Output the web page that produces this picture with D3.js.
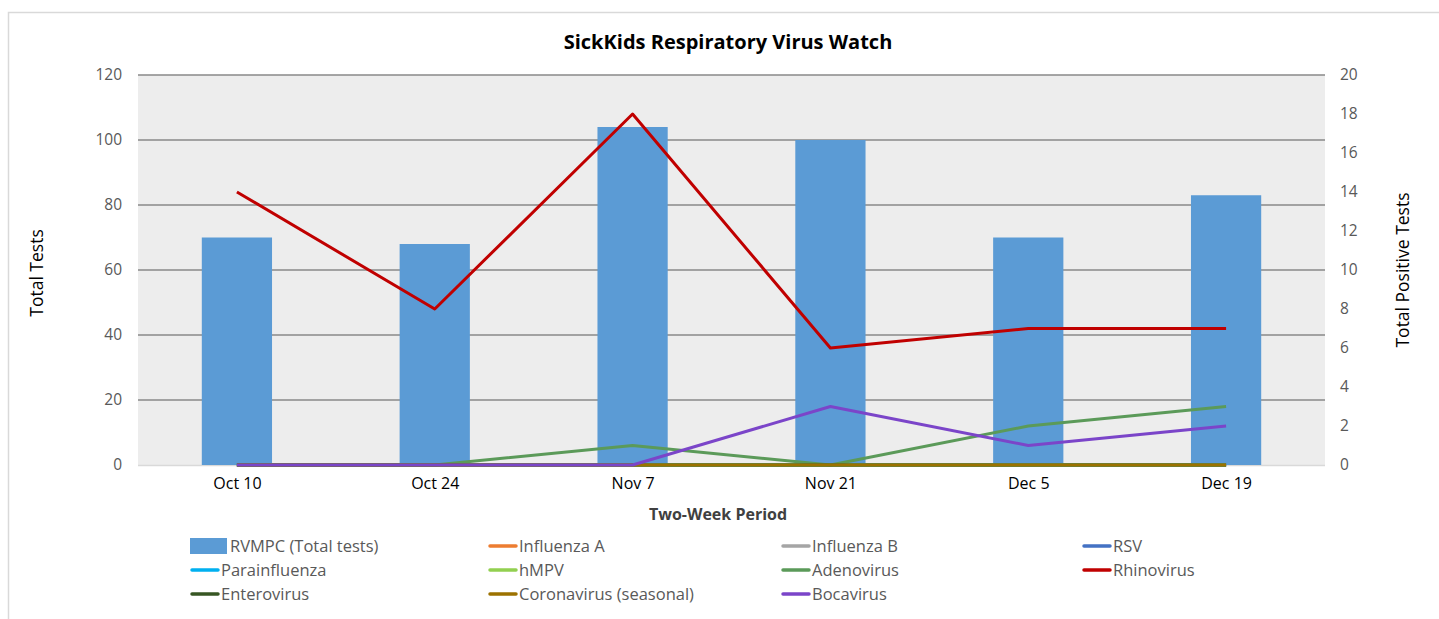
<!DOCTYPE html>
<html>
<head>
<meta charset="utf-8">
<script src="https://cdn.jsdelivr.net/npm/d3@7"></script>
<style>
  body { margin: 0; background: #fff; }
  svg text { font-family: "Open Sans", "DejaVu Sans", sans-serif; }
</style>
</head>
<body>
<div id="chart"></div>
<script>
// data
var periods = ["Oct 10", "Oct 24", "Nov 7", "Nov 21", "Dec 5", "Dec 19"];
var totalTests = [70, 68, 104, 100, 70, 83];
var leftTicks = [0, 20, 40, 60, 80, 100, 120];
var rightTicks = [0, 2, 4, 6, 8, 10, 12, 14, 16, 18, 20];

var influenzaA = [0, 0, 0, 0, 0, 0];
var influenzaB = [0, 0, 0, 0, 0, 0];
var rsv = [0, 0, 0, 0, 0, 0];
var parainfluenza = [0, 0, 0, 0, 0, 0];
var hmpv = [0, 0, 0, 0, 0, 0];
var adenovirus = [0, 0, 1, 0, 2, 3];
var rhinovirus = [14, 8, 18, 6, 7, 7];
var enterovirus = [0, 0, 0, 0, 0, 0];
var coronavirus = [0, 0, 0, 0, 0, 0];
var bocavirus = [0, 0, 0, 3, 1, 2];

var series = [
    {name: "Influenza A", values: influenzaA, color: "#ed7d31"},
    {name: "Influenza B", values: influenzaB, color: "#a5a5a5"},
    {name: "RSV", values: rsv, color: "#4472c4"},
    {name: "Parainfluenza", values: parainfluenza, color: "#00b0f0"},
    {name: "hMPV", values: hmpv, color: "#92d050"},
    {name: "Adenovirus", values: adenovirus, color: "#5b9a59"},
    {name: "Rhinovirus", values: rhinovirus, color: "#c00000"},
    {name: "Enterovirus", values: enterovirus, color: "#375623"},
    {name: "Coronavirus (seasonal)", values: coronavirus, color: "#9c7200"},
    {name: "Bocavirus", values: bocavirus, color: "#7b45c9"}
];

var W = 1439, H = 619;
var plot = {left: 138, right: 1325, top: 75, bottom: 465};

var svg = d3.select("#chart").append("svg").attr("width", W).attr("height", H);

// chart frame
svg.append("path").attr("d", "M8.5," + H + "V12.5H" + W)
    .attr("fill", "none").attr("stroke", "#d9d9d9").attr("stroke-width", 1.5);

var x = d3.scaleBand().domain(periods).range([plot.left, plot.right]).paddingInner(0.645).paddingOuter(0.3225);
var xc = d3.scalePoint().domain(periods).range([plot.left, plot.right]).padding(0.5);
var yL = d3.scaleLinear().domain([0, 120]).range([plot.bottom, plot.top]);
var yR = d3.scaleLinear().domain([0, 20]).range([plot.bottom, plot.top]);

svg.append("rect").attr("x", plot.left).attr("y", plot.top)
    .attr("width", plot.right - plot.left).attr("height", plot.bottom - plot.top)
    .attr("fill", "#ededed");

// gridlines
svg.append("g").selectAll("line").data(leftTicks.slice(1)).enter().append("line")
    .attr("x1", plot.left).attr("x2", plot.right)
    .attr("y1", function(d){ return yL(d); }).attr("y2", function(d){ return yL(d); })
    .attr("stroke", "#898989").attr("stroke-width", 1.5);

svg.append("line").attr("x1", plot.left).attr("x2", plot.right)
    .attr("y1", plot.bottom + 0.5).attr("y2", plot.bottom + 0.5)
    .attr("stroke", "#d9d9d9").attr("stroke-width", 1.5);

// left axis
var axL = svg.append("g").attr("transform", "translate(" + (plot.left - 16) + ",0)")
    .call(d3.axisLeft(yL).tickValues(leftTicks).tickSize(0).tickPadding(0));
axL.select(".domain").remove();
axL.selectAll("text").attr("font-size", 15.5).attr("fill", "#595959");

// right axis
var axR = svg.append("g").attr("transform", "translate(" + (plot.right + 15) + ",0)")
    .call(d3.axisRight(yR).tickValues(rightTicks).tickSize(0).tickPadding(0));
axR.select(".domain").remove();
axR.selectAll("text").attr("font-size", 15.5).attr("fill", "#595959");

// bars
svg.append("g").selectAll("rect").data(totalTests).enter().append("rect")
    .attr("x", function(d, i){ return x(periods[i]); })
    .attr("width", x.bandwidth())
    .attr("y", function(d){ return yL(d); })
    .attr("height", function(d){ return yL(0) - yL(d); })
    .attr("fill", "#5b9bd5");

// lines
var line = d3.line()
    .x(function(d, i){ return xc(periods[i]); })
    .y(function(d){ return yR(d); });

svg.append("g").selectAll("path").data(series).enter().append("path")
    .attr("d", function(s){ return line(s.values); })
    .attr("fill", "none")
    .attr("stroke", function(s){ return s.color; })
    .attr("stroke-width", 3)
    .attr("stroke-linejoin", "round");

// x axis labels
var axB = svg.append("g").attr("transform", "translate(0," + (plot.bottom + 13) + ")")
    .call(d3.axisBottom(xc).tickSize(0).tickPadding(0));
axB.select(".domain").remove();
axB.selectAll("text").attr("font-size", 16).attr("fill", "#000").attr("dy", "0.71em");

// titles
svg.append("text").attr("x", 728).attr("y", 49).attr("text-anchor", "middle")
    .attr("font-size", 20).attr("font-weight", "bold").attr("fill", "#000")
    .text("SickKids Respiratory Virus Watch");

svg.append("text").attr("x", 718).attr("y", 520).attr("text-anchor", "middle")
    .attr("font-size", 16).attr("font-weight", "bold").attr("fill", "#404040")
    .text("Two-Week Period");

svg.append("text").attr("transform", "translate(43,273) rotate(-90)").attr("text-anchor", "middle")
    .attr("font-size", 17.5).attr("fill", "#000").text("Total Tests");

svg.append("text").attr("transform", "translate(1409,270) rotate(-90)").attr("text-anchor", "middle")
    .attr("font-size", 17.5).attr("fill", "#000").text("Total Positive Tests");

// legend
var legendItems = [{name: "RVMPC (Total tests)", color: "#5b9bd5", bar: true}].concat(series);
var colX = [190, 488, 781, 1082];
var rowY = [546, 570, 594];

var leg = svg.append("g").selectAll("g").data(legendItems).enter().append("g")
    .attr("transform", function(d, i){ return "translate(" + colX[i % 4] + "," + rowY[Math.floor(i / 4)] + ")"; });

leg.each(function(d){
    var g = d3.select(this);
    if (d.bar) {
        g.append("rect").attr("x", 0).attr("y", -8).attr("width", 37).attr("height", 16).attr("fill", d.color);
        g.append("text").attr("x", 40).attr("y", 0).attr("dy", "0.35em")
            .attr("font-size", 16.5).attr("fill", "#595959").text(d.name);
    } else {
        g.append("line").attr("x1", 2).attr("x2", 28).attr("y1", 0).attr("y2", 0)
            .attr("stroke", d.color).attr("stroke-width", 3.5).attr("stroke-linecap", "round");
        g.append("text").attr("x", 31).attr("y", 0).attr("dy", "0.35em")
            .attr("font-size", 16.5).attr("fill", "#595959").text(d.name);
    }
});
</script>
</body>
</html>
